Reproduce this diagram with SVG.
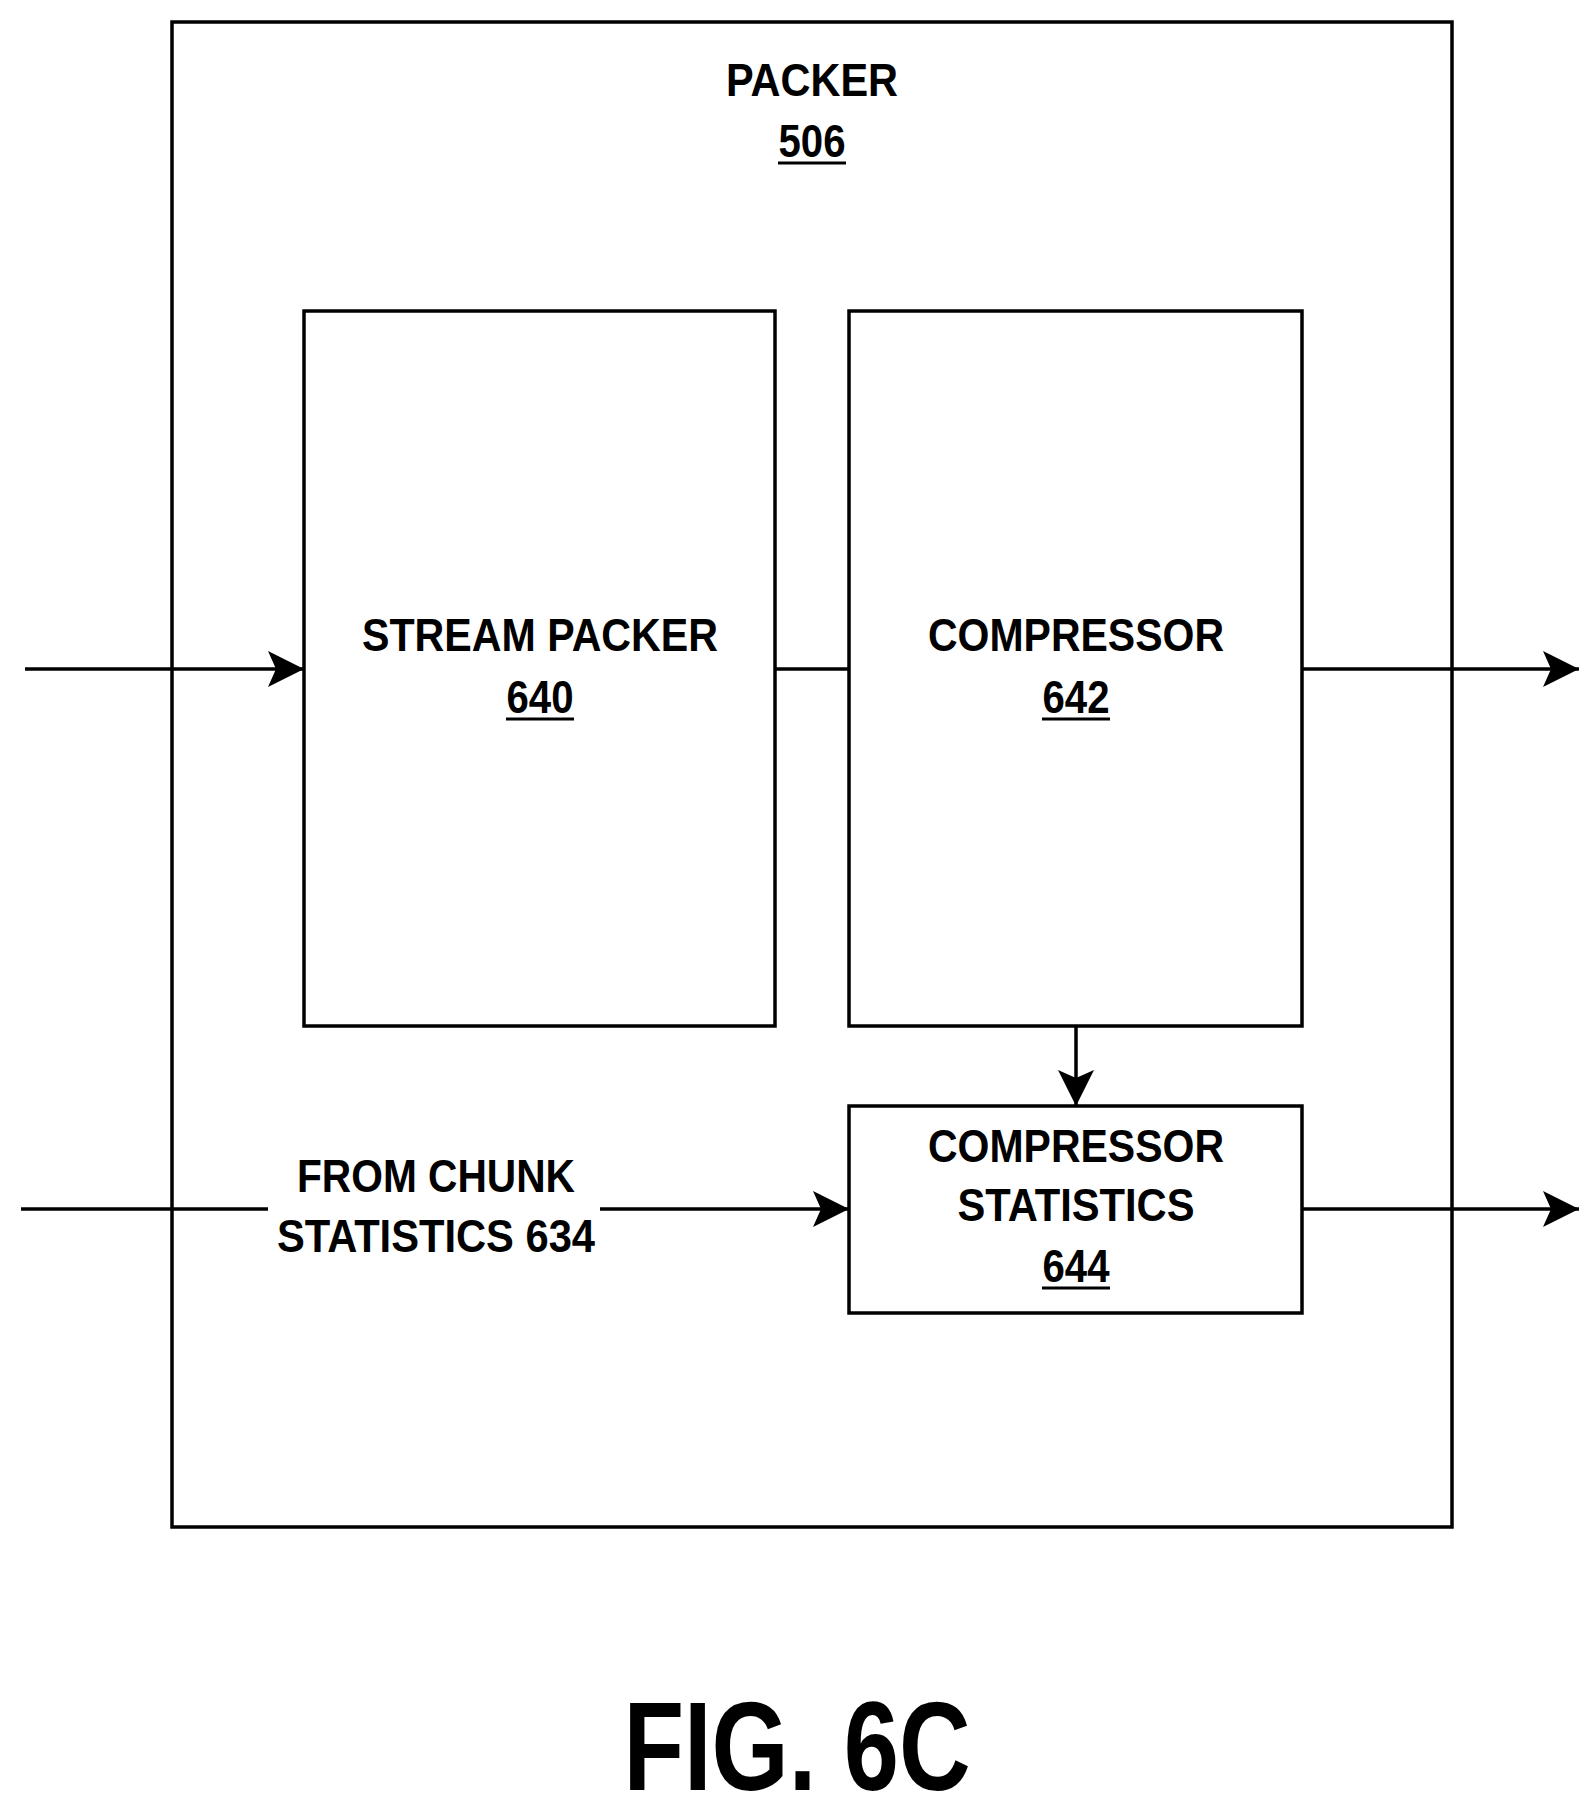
<svg xmlns="http://www.w3.org/2000/svg" width="1595" height="1810" viewBox="0 0 1595 1810">
<style>
.b{fill:#fff;stroke:#000;stroke-width:3.5}
.l{stroke:#000;stroke-width:3.5;fill:none}
.u{stroke:#000;stroke-width:3}
text{font-family:"Liberation Sans",Arial,sans-serif;font-weight:bold;font-size:46px;text-anchor:middle;fill:#000}
</style>
<defs>
<marker id="ah" viewBox="0 0 36 36" refX="36" refY="18" markerWidth="36" markerHeight="36" orient="auto" markerUnits="userSpaceOnUse"><path d="M0,0L36,18L0,36L8,18z"/></marker></defs>
<g id="packer"><rect class="b" x="172" y="22" width="1280" height="1505"/>
<text x="812" y="96" textLength="172" lengthAdjust="spacingAndGlyphs">PACKER</text>
<text x="812" y="157" textLength="67" lengthAdjust="spacingAndGlyphs">506</text><line class="u" x1="778" y1="163" x2="846" y2="163"/></g>
<g id="stream"><rect class="b" x="304" y="311" width="471" height="715"/>
<text x="540" y="651" textLength="356" lengthAdjust="spacingAndGlyphs">STREAM PACKER</text>
<text x="540" y="713" textLength="67" lengthAdjust="spacingAndGlyphs">640</text><line class="u" x1="506" y1="719" x2="574" y2="719"/></g>
<g id="comp"><rect class="b" x="849" y="311" width="453" height="715"/>
<text x="1076" y="651" textLength="296" lengthAdjust="spacingAndGlyphs">COMPRESSOR</text>
<text x="1076" y="713" textLength="67" lengthAdjust="spacingAndGlyphs">642</text><line class="u" x1="1042" y1="719" x2="1110" y2="719"/></g>
<g id="stats"><rect class="b" x="849" y="1106" width="453" height="207"/>
<text x="1076" y="1162" textLength="296" lengthAdjust="spacingAndGlyphs">COMPRESSOR</text>
<text x="1076" y="1221" textLength="237" lengthAdjust="spacingAndGlyphs">STATISTICS</text>
<text x="1076" y="1282" textLength="67" lengthAdjust="spacingAndGlyphs">644</text><line class="u" x1="1042" y1="1288" x2="1110" y2="1288"/></g>
<g id="connectors">
<line class="l" x1="25" y1="669" x2="304" y2="669" marker-end="url(#ah)"/>
<line class="l" x1="775" y1="669" x2="849" y2="669"/>
<line class="l" x1="1302" y1="669" x2="1579" y2="669" marker-end="url(#ah)"/>
<line class="l" x1="1076" y1="1026" x2="1076" y2="1106" marker-end="url(#ah)"/>
<line class="l" x1="21" y1="1209" x2="268" y2="1209"/>
<line class="l" x1="600" y1="1209" x2="849" y2="1209" marker-end="url(#ah)"/>
<line class="l" x1="1302" y1="1209" x2="1579" y2="1209" marker-end="url(#ah)"/>
<text x="436" y="1192" textLength="278" lengthAdjust="spacingAndGlyphs">FROM CHUNK</text>
<text x="436" y="1252" textLength="318" lengthAdjust="spacingAndGlyphs">STATISTICS 634</text>
</g>
<text x="797" y="1790" style="font-size:126px" textLength="347" lengthAdjust="spacingAndGlyphs">FIG. 6C</text>
</svg>
